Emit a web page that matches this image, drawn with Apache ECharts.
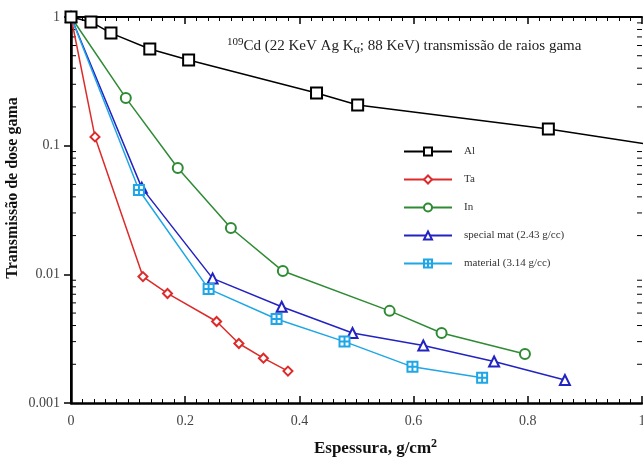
<!DOCTYPE html>
<html>
<head>
<meta charset="utf-8">
<script src="https://cdn.jsdelivr.net/npm/echarts@6/dist/echarts.min.js"></script>
<style>
  html, body { margin: 0; padding: 0; background: #fff; }
  #chart { width: 643px; height: 457px; }
</style>
</head>
<body>
<div id="chart"></div>
<script>
// thickness (g/cm2) and transmitted dose fraction
const alX = [0, 0.035, 0.07, 0.138, 0.206, 0.43, 0.502, 0.836, 1.17];
const alY = [1, 0.915, 0.75, 0.564, 0.463, 0.257, 0.207, 0.135, 0.08];
const taX = [0, 0.042, 0.126, 0.169, 0.255, 0.294, 0.337, 0.380];
const taY = [1, 0.117, 0.0096, 0.0071, 0.0043, 0.0029, 0.00223, 0.00177];
const inX = [0, 0.096, 0.187, 0.280, 0.371, 0.558, 0.649, 0.795];
const inY = [1, 0.235, 0.067, 0.0229, 0.0106, 0.0052, 0.0035, 0.0024];
const spX = [0, 0.124, 0.248, 0.369, 0.493, 0.617, 0.741, 0.865];
const spY = [1, 0.047, 0.0093, 0.0056, 0.0035, 0.0028, 0.0021, 0.00151];
const maX = [0, 0.119, 0.241, 0.360, 0.479, 0.598, 0.720];
const maY = [1, 0.0452, 0.0077, 0.0045, 0.0030, 0.00191, 0.00157];

const names = ["Al", "Ta", "In", "special mat (2.43 g/cc)", "material (3.14 g/cc)"];
const xTicks = [0, 0.2, 0.4, 0.6, 0.8, 1];
const yTicks = [0.001, 0.01, 0.1, 1];

const serif = "Liberation Serif";

// log minor tick positions 2..9 in each decade
const minorY = [];
for (let d = 0.001; d < 1; d *= 10) {
  for (let k = 2; k <= 9; k++) minorY.push([0, +(k * d).toPrecision(3)]);
}

const zip = (xs, ys) => xs.map((x, i) => [x, ys[i]]);

const chart = echarts.init(document.getElementById("chart"));

function lineSeries(name, xs, ys, color, symbol, size, z) {
  return {
    name: name,
    type: "line",
    data: zip(xs, ys),
    symbol: symbol,
    symbolSize: size,
    showAllSymbol: true,
    clip: true,
    lineStyle: { color: color, width: 1.5 },
    itemStyle: { color: "#fff", borderColor: color, borderWidth: 2 },
    emphasis: { disabled: true },
    z: z || 3,
  };
}

const option = {
  animation: false,
  textStyle: { fontFamily: serif },
  grid: { left: 71, top: 17, right: 1, bottom: 54, containLabel: false, outerBoundsMode: "none" },
  title: {
    left: 222,
    top: 31,
    text: "{sup|109}Cd (22 KeV Ag K{sub|α}; 88 KeV) transmissão de raios gama",
    textStyle: {
      fontFamily: serif,
      fontSize: 15,
      fontWeight: "normal",
      color: "#222",
      rich: {
        sup: { fontFamily: serif, fontSize: 11, color: "#222", padding: [0, 0, 8, 0] },
        sub: { fontFamily: serif, fontSize: 12, color: "#222", padding: [8, 0, 0, 0] },
      },
    },
  },
  legend: {
    data: names,
    orient: "vertical",
    left: 403,
    top: 146,
    padding: 0,
    itemWidth: 48,
    itemHeight: 10,
    itemGap: 17,
    selectedMode: false,
    textStyle: { fontFamily: serif, fontSize: 11, color: "#333", padding: [0, 0, 0, 7] },
  },
  xAxis: [
    {
      type: "value",
      min: 0,
      max: 1,
      interval: 0.2,
      name: "Espessura{n|, }g/cm{sup|2}",
      nameLocation: "middle",
      nameGap: 35,
      nameTextStyle: {
        fontFamily: serif,
        fontSize: 17,
        fontWeight: "bold",
        color: "#111",
        padding: [0, 0, 0, 38],
        rich: {
          n: { fontFamily: serif, fontSize: 17, fontWeight: "bold", color: "#111" },
          sup: { fontFamily: serif, fontSize: 12, fontWeight: "bold", color: "#111", padding: [0, 0, 9, 0] },
        },
      },
      axisLine: { lineStyle: { color: "#000", width: 2.5 } },
      axisTick: { inside: true, length: 7, lineStyle: { color: "#000", width: 1.5 } },
      minorTick: { show: true, splitNumber: 10, length: 4, lineStyle: { color: "#000", width: 1 } },
      axisLabel: {
        fontFamily: serif,
        fontSize: 14,
        color: "#444",
        margin: 11,
        formatter: (v) => (xTicks.includes(+v.toFixed(2)) ? String(+v.toFixed(2)) : ""),
      },
      splitLine: { show: false },
    },
    {
      type: "value",
      position: "top",
      min: 0,
      max: 1,
      interval: 0.2,
      axisLine: { lineStyle: { color: "#000", width: 2 } },
      axisTick: { inside: true, length: 7, lineStyle: { color: "#000", width: 1.5 } },
      minorTick: { show: true, splitNumber: 10, length: 4, lineStyle: { color: "#000", width: 1 } },
      axisLabel: { show: false },
      splitLine: { show: false },
    },
  ],
  yAxis: [
    {
      type: "log",
      min: 0.001,
      max: 1,
      logBase: 10,
      name: "Transmissão de dose gama",
      nameLocation: "middle",
      nameGap: 50,
      nameMoveOverlap: false,
      nameTextStyle: {
        fontFamily: serif,
        fontSize: 16,
        fontWeight: "bold",
        color: "#111",
        padding: [0, 0, 0, 44],
      },
      axisLine: { lineStyle: { color: "#000", width: 2.5 } },
      axisTick: { inside: false, length: 5, lineStyle: { color: "#000", width: 1.5 } },
      axisLabel: {
        fontFamily: serif,
        fontSize: 14,
        color: "#444",
        margin: 11,
        formatter: (v) => String(+(+v).toPrecision(3)),
      },
      splitLine: { show: false },
    },
    {
      type: "log",
      position: "right",
      min: 0.001,
      max: 1,
      logBase: 10,
      axisLine: { lineStyle: { color: "#000", width: 2 } },
      axisTick: { inside: true, length: 7, lineStyle: { color: "#000", width: 1.5 } },
      axisLabel: { show: false },
      splitLine: { show: false },
    },
  ],
  series: [
    lineSeries(names[0], alX, alY, "#000000", "rect", 11, 5),
    lineSeries(names[1], taX, taY, "#dd2a2a", "diamond", 9),
    lineSeries(names[2], inX, inY, "#2e8b34", "circle", 10),
    lineSeries(names[3], spX, spY, "#2323c2", "triangle", 10),
    lineSeries(names[4], maX, maY, "#1fa6e6", "path://M0,0H10V10H0Z M5,0V10 M0,5H10", 10),
    {
      // log minor ticks on left and right axes
      type: "custom",
      silent: true,
      clip: false,
      data: minorY,
      renderItem: (params, api) => {
        const v = api.value(1);
        const l = api.coord([0, v]);
        const r = api.coord([1, v]);
        const style = { stroke: "#000", lineWidth: 1 };
        return {
          type: "group",
          children: [
            { type: "line", shape: { x1: l[0], y1: l[1], x2: l[0] + 5, y2: l[1] }, style: style },
            { type: "line", shape: { x1: r[0] - 5, y1: r[1], x2: r[0], y2: r[1] }, style: style },
          ],
        };
      },
    },
  ],
};

chart.setOption(option);
</script>
</body>
</html>
